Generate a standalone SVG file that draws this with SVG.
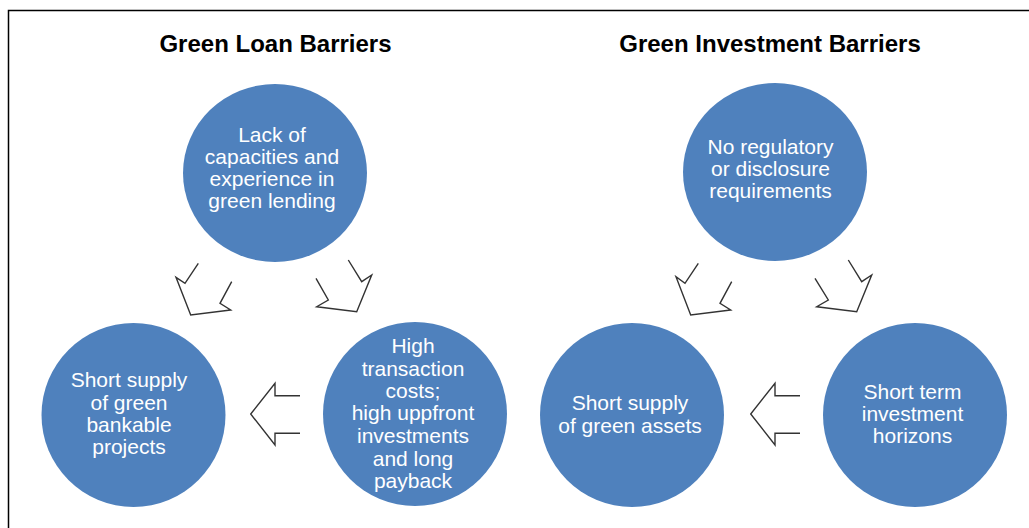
<svg xmlns="http://www.w3.org/2000/svg" width="1029" height="528" viewBox="0 0 1029 528">
<style>
.node{fill:#4F81BD;}
.lbl{fill:#ffffff;font-family:"Liberation Sans",Arial,sans-serif;font-size:21px;text-anchor:middle;}
.title{fill:#000000;font-family:"Liberation Sans",Arial,sans-serif;font-size:24px;font-weight:bold;text-anchor:middle;}
.arr{fill:none;stroke:#333333;stroke-width:1.4;stroke-linejoin:miter;}
</style>
<rect x="0" y="0" width="1029" height="528" fill="#ffffff"/>
<rect x="8.5" y="10.5" width="1040" height="540" fill="none" stroke="#000000" stroke-width="1.5"/>
<text class="title" x="275.5" y="52">Green Loan Barriers</text>
<text class="title" x="770" y="52">Green Investment Barriers</text>

<g id="connectors">
<polyline class="arr" points="198.3,263.3 185,283.3 176,277.3 190.7,315 230.7,310 220,303.3 231.7,281.7"/>
<polyline class="arr" points="348.3,260 361.7,281.7 371.7,275 356.7,311.7 316.7,306.7 328.3,300 316,278.3"/>
<polyline class="arr" points="300,395.7 275,395.7 275,383.3 250.7,414 275,445 275,433.3 300,433.3"/>
<polyline class="arr" points="698.3,263.3 685,283.3 676,276.7 690.7,315 730.7,310 720,303.3 731.7,281.7"/>
<polyline class="arr" points="848.3,260 861.7,281.7 871.7,275 856.7,311.7 816.7,306.7 828.3,300 815,278.3"/>
<polyline class="arr" points="800,395.7 775,395.7 775,383.3 750.7,414 775,445 775,433.3 800,433.3"/>
</g>

<g id="node-lack">
<ellipse class="node" cx="275" cy="173" rx="92" ry="89"/>
<text class="lbl" x="272"><tspan x="272" y="142">Lack of</tspan><tspan x="272" y="164">capacities and</tspan><tspan x="272" y="186">experience in</tspan><tspan x="272" y="208">green lending</tspan></text>
</g>
<g id="node-bankable">
<circle class="node" cx="133.5" cy="415" r="92"/>
<text class="lbl"><tspan x="129" y="387">Short supply</tspan><tspan x="129" y="410">of green</tspan><tspan x="129" y="432">bankable</tspan><tspan x="129" y="454">projects</tspan></text>
</g>
<g id="node-high">
<circle class="node" cx="415" cy="414" r="92"/>
<text class="lbl"><tspan x="413" y="353">High</tspan><tspan x="413" y="376">transaction</tspan><tspan x="413" y="398">costs;</tspan><tspan x="413" y="420">high uppfront</tspan><tspan x="413" y="443">investments</tspan><tspan x="413" y="466">and long</tspan><tspan x="413" y="488">payback</tspan></text>
</g>
<g id="node-regulatory">
<ellipse class="node" cx="775" cy="172" rx="92" ry="89"/>
<text class="lbl"><tspan x="770.5" y="154">No regulatory</tspan><tspan x="770.5" y="176">or disclosure</tspan><tspan x="770.5" y="198">requirements</tspan></text>
</g>
<g id="node-assets">
<circle class="node" cx="632" cy="415" r="92"/>
<text class="lbl"><tspan x="630" y="410">Short supply</tspan><tspan x="630" y="433">of green assets</tspan></text>
</g>
<g id="node-horizons">
<circle class="node" cx="915" cy="415" r="92"/>
<text class="lbl"><tspan x="912.5" y="399">Short term</tspan><tspan x="912.5" y="421">investment</tspan><tspan x="912.5" y="443">horizons</tspan></text>
</g>
</svg>
